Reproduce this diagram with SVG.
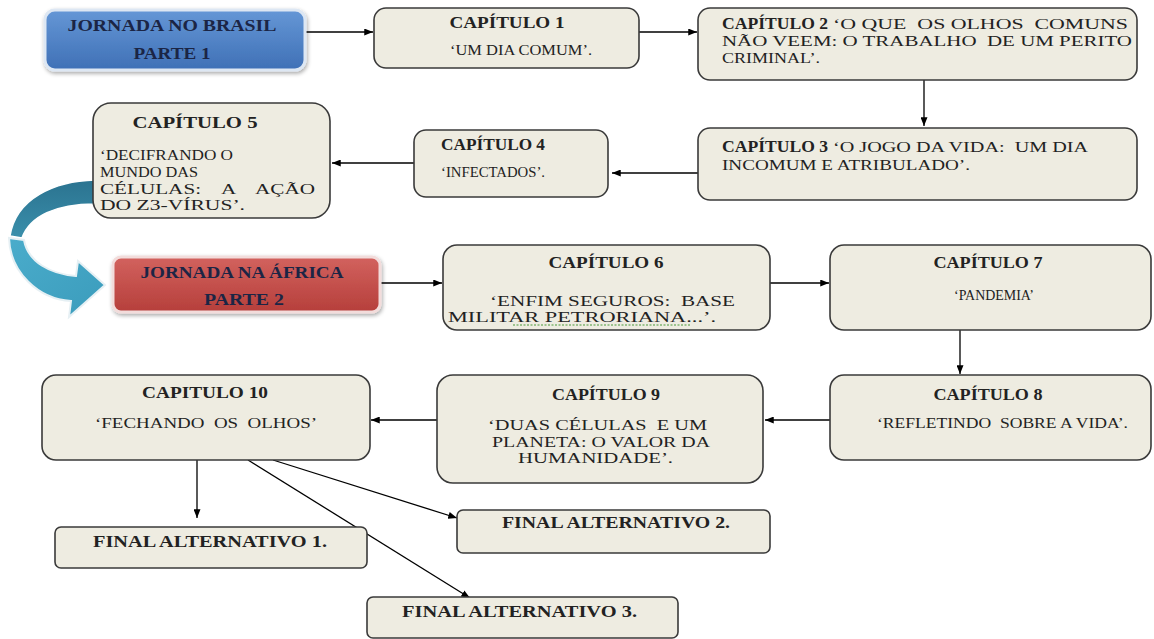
<svg xmlns="http://www.w3.org/2000/svg" width="1154" height="639" viewBox="0 0 1154 639">
  <defs>
    <marker id="arr" viewBox="0 0 10 8" refX="10" refY="4" markerWidth="9" markerHeight="7" markerUnits="userSpaceOnUse" orient="auto">
      <path d="M0,0 L10,4 L0,8 Z" fill="#000"/>
    </marker>
    <linearGradient id="gBlue" x1="0" y1="0" x2="0" y2="1">
      <stop offset="0" stop-color="#6597d6"/>
      <stop offset="1" stop-color="#3f70b6"/>
    </linearGradient>
    <linearGradient id="gRed" x1="0" y1="0" x2="0" y2="1">
      <stop offset="0" stop-color="#d2625e"/>
      <stop offset="1" stop-color="#b63f3b"/>
    </linearGradient>
    <linearGradient id="gTealBack" x1="0" y1="0" x2="0" y2="1">
      <stop offset="0" stop-color="#2b7390"/>
      <stop offset="1" stop-color="#3a8fab"/>
    </linearGradient>
    <linearGradient id="gTealFront" x1="0" y1="0" x2="1" y2="1">
      <stop offset="0" stop-color="#4aaccb"/>
      <stop offset="1" stop-color="#3b9cbc"/>
    </linearGradient>
    <filter id="soft" x="-10%" y="-20%" width="125%" height="150%">
      <feGaussianBlur in="SourceAlpha" stdDeviation="2"/>
      <feOffset dx="1" dy="2" result="b"/>
      <feComponentTransfer><feFuncA type="linear" slope="0.35"/></feComponentTransfer>
      <feMerge><feMergeNode/><feMergeNode in="SourceGraphic"/></feMerge>
    </filter>
  </defs>
  <style>
    .box { fill:#eeece1; stroke:#3a3a3a; stroke-width:1.6; }
    .t { font-family:"Liberation Serif","Times New Roman",serif; font-size:15.5px; fill:#222222; }
    .b { font-weight:bold; font-size:16px; }
    .c { text-anchor:middle; }
    .pre { white-space:pre; }
    .hd { fill:#1b2545; font-weight:bold; font-size:16px; }
    .conn { stroke:#000; stroke-width:1.3; fill:none; marker-end:url(#arr); }
  </style>

  <rect width="1154" height="639" fill="#ffffff"/>

  <!-- curved transition arrow from part 1 to part 2 -->
  <g id="curved-arrow">
    <path d="M 95,180 C 55,181 16,198 10,236 L 22,238 C 30,216 56,204 95,204 Z" fill="url(#gTealBack)" stroke="#ffffff" stroke-width="1.5"/>
    <path d="M 9,238 C 10,272 38,299 71,301 L 69,317 L 105,285 L 78,261 L 76,276 C 50,274 28,262 24,240 Z" fill="url(#gTealFront)" stroke="#e6f0f4" stroke-width="2"/>
  </g>

  <!-- connectors -->
  <g id="connectors">
    <line class="conn" x1="305" y1="32" x2="373" y2="32"/>
    <line class="conn" x1="639" y1="32" x2="697" y2="32"/>
    <line class="conn" x1="924" y1="80" x2="924" y2="126"/>
    <line class="conn" x1="698" y1="173" x2="612" y2="173"/>
    <line class="conn" x1="414" y1="163" x2="332" y2="163"/>
    <line class="conn" x1="380" y1="283" x2="442" y2="283"/>
    <line class="conn" x1="770" y1="283" x2="829" y2="283"/>
    <line class="conn" x1="960" y1="330" x2="960" y2="374"/>
    <line class="conn" x1="830" y1="420" x2="765" y2="420"/>
    <line class="conn" x1="437" y1="420" x2="371" y2="420"/>
    <line class="conn" x1="197" y1="460" x2="197" y2="518"/>
    <line class="conn" x1="273" y1="460" x2="457" y2="518"/>
    <line class="conn" x1="248" y1="460" x2="470" y2="598"/>
  </g>

  <g id="n-brasil">
    <rect x="45" y="10" width="260" height="60" rx="10" fill="url(#gBlue)" stroke="#dde7f3" stroke-width="3" filter="url(#soft)"/>
    <text class="t hd c" x="172" y="31" textLength="209" lengthAdjust="spacingAndGlyphs">JORNADA NO BRASIL</text>
    <text class="t hd c" x="172" y="59" textLength="77" lengthAdjust="spacingAndGlyphs">PARTE 1</text>
  </g>

  <g id="n-cap1">
    <rect class="box" x="374" y="8" width="265" height="60" rx="12"/>
    <text class="t b c" x="507" y="28" textLength="115" lengthAdjust="spacingAndGlyphs">CAPÍTULO 1</text>
    <text class="t c" x="521" y="55" textLength="142" lengthAdjust="spacingAndGlyphs">‘UM DIA COMUM’.</text>
  </g>

  <g id="n-cap2">
    <rect class="box" x="698" y="8" width="439" height="72" rx="12"/>
    <text class="t b" x="722" y="29" textLength="106" lengthAdjust="spacingAndGlyphs">CAPÍTULO 2</text>
    <text class="t pre" x="833" y="29" textLength="295" lengthAdjust="spacingAndGlyphs">‘O QUE  OS OLHOS  COMUNS</text>
    <text class="t pre" x="722" y="46" textLength="410" lengthAdjust="spacingAndGlyphs">NÃO VEEM: O TRABALHO  DE UM PERITO</text>
    <text class="t" x="722" y="63" textLength="98" lengthAdjust="spacingAndGlyphs">CRIMINAL’.</text>
  </g>

  <g id="n-cap3">
    <rect class="box" x="698" y="128" width="439" height="72" rx="12"/>
    <text class="t b" x="722" y="152" textLength="106" lengthAdjust="spacingAndGlyphs">CAPÍTULO 3</text>
    <text class="t pre" x="833" y="152" textLength="255" lengthAdjust="spacingAndGlyphs">‘O JOGO DA VIDA:  UM DIA</text>
    <text class="t" x="722" y="170" textLength="248" lengthAdjust="spacingAndGlyphs">INCOMUM E ATRIBULADO’.</text>
  </g>

  <g id="n-cap4">
    <rect class="box" x="414" y="130" width="194" height="67" rx="12"/>
    <text class="t b" x="441" y="150" textLength="104" lengthAdjust="spacingAndGlyphs">CAPÍTULO 4</text>
    <text class="t" x="441" y="177" textLength="104" lengthAdjust="spacingAndGlyphs">‘INFECTADOS’.</text>
  </g>

  <g id="n-cap5">
    <rect class="box" x="93" y="103" width="237" height="115" rx="18"/>
    <text class="t b c" x="195" y="128" textLength="125" lengthAdjust="spacingAndGlyphs">CAPÍTULO 5</text>
    <text class="t" x="100" y="160" textLength="133" lengthAdjust="spacingAndGlyphs">‘DECIFRANDO O</text>
    <text class="t" x="100" y="177" textLength="98" lengthAdjust="spacingAndGlyphs">MUNDO DAS</text>
    <text class="t pre" x="100" y="194" textLength="215" lengthAdjust="spacingAndGlyphs">CÉLULAS:    A    AÇÃO</text>
    <text class="t" x="100" y="210" textLength="145" lengthAdjust="spacingAndGlyphs">DO Z3-VÍRUS’.</text>
  </g>

  <g id="n-africa">
    <rect x="113" y="257" width="267" height="55" rx="8" fill="url(#gRed)" stroke="#f2dcdb" stroke-width="3" filter="url(#soft)"/>
    <text class="t hd c" x="242" y="278" textLength="203" lengthAdjust="spacingAndGlyphs">JORNADA NA ÁFRICA</text>
    <text class="t hd c" x="244" y="305" textLength="80" lengthAdjust="spacingAndGlyphs">PARTE 2</text>
  </g>

  <g id="n-cap6">
    <rect class="box" x="443" y="245" width="327" height="85" rx="14"/>
    <text class="t b c" x="606" y="268" textLength="115" lengthAdjust="spacingAndGlyphs">CAPÍTULO 6</text>
    <text class="t pre" x="490" y="306" textLength="245" lengthAdjust="spacingAndGlyphs">‘ENFIM SEGUROS:  BASE</text>
    <text class="t" x="448" y="322" textLength="268" lengthAdjust="spacingAndGlyphs">MILITAR PETRORIANA...’.</text>
    <line x1="513" y1="325" x2="690" y2="325" stroke="#4a9a3a" stroke-width="1.2" stroke-dasharray="2 1.5"/>
  </g>

  <g id="n-cap7">
    <rect class="box" x="830" y="245" width="321" height="85" rx="14"/>
    <text class="t b c" x="988" y="268" textLength="109" lengthAdjust="spacingAndGlyphs">CAPÍTULO 7</text>
    <text class="t c" x="994" y="300" textLength="80" lengthAdjust="spacingAndGlyphs">‘PANDEMIA’</text>
  </g>

  <g id="n-cap8">
    <rect class="box" x="830" y="375" width="321" height="85" rx="14"/>
    <text class="t b c" x="988" y="400" textLength="109" lengthAdjust="spacingAndGlyphs">CAPÍTULO 8</text>
    <text class="t pre" x="877" y="428" textLength="251" lengthAdjust="spacingAndGlyphs">‘REFLETINDO  SOBRE A VIDA’.</text>
  </g>

  <g id="n-cap9">
    <rect class="box" x="437" y="375" width="326" height="108" rx="16"/>
    <text class="t b c" x="606" y="400" textLength="108" lengthAdjust="spacingAndGlyphs">CAPÍTULO 9</text>
    <text class="t pre" x="488" y="430" textLength="219" lengthAdjust="spacingAndGlyphs">‘DUAS CÉLULAS  E UM</text>
    <text class="t" x="492" y="447" textLength="218" lengthAdjust="spacingAndGlyphs">PLANETA: O VALOR DA</text>
    <text class="t" x="518" y="463" textLength="155" lengthAdjust="spacingAndGlyphs">HUMANIDADE’.</text>
  </g>

  <g id="n-cap10">
    <rect class="box" x="42" y="375" width="328" height="85" rx="14"/>
    <text class="t b c" x="205" y="398" textLength="126" lengthAdjust="spacingAndGlyphs">CAPITULO 10</text>
    <text class="t pre" x="95" y="428" textLength="222" lengthAdjust="spacingAndGlyphs">‘FECHANDO  OS  OLHOS’</text>
  </g>

  <g id="n-final1">
    <rect class="box" x="55" y="527" width="312" height="41" rx="6"/>
    <text class="t b" x="93" y="547" textLength="234" lengthAdjust="spacingAndGlyphs">FINAL ALTERNATIVO 1.</text>
  </g>

  <g id="n-final2">
    <rect class="box" x="457" y="510" width="313" height="43" rx="6"/>
    <text class="t b" x="502" y="528" textLength="228" lengthAdjust="spacingAndGlyphs">FINAL ALTERNATIVO 2.</text>
  </g>

  <g id="n-final3">
    <rect class="box" x="367" y="597" width="311" height="41" rx="6"/>
    <text class="t b" x="402" y="617" textLength="235" lengthAdjust="spacingAndGlyphs">FINAL ALTERNATIVO 3.</text>
  </g>
</svg>
